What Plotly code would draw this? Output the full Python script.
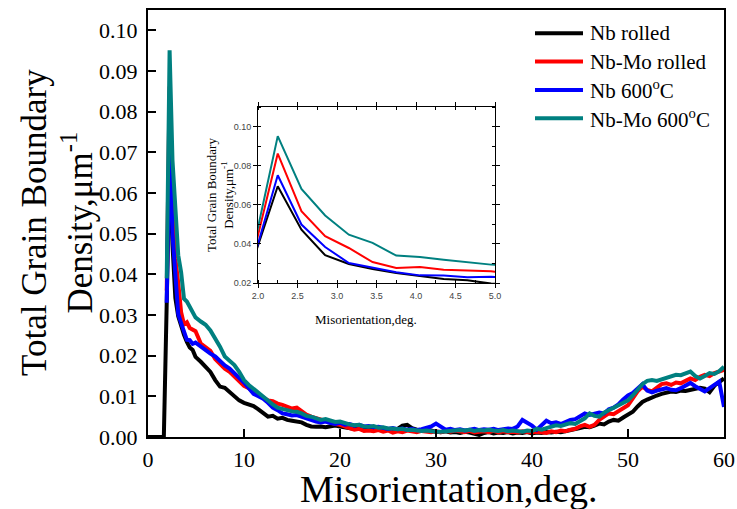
import plotly.graph_objects as go

# ---- data -------------------------------------------------------------
# bin centres (deg): fine bins at the low-angle peak, then 0.5 deg bins
HEAD_X = [1.95, 2.25, 2.55, 2.85, 3.15, 3.45, 3.75, 4.05, 4.35, 4.65, 4.95]
TAIL_X = [round(5.5 + 0.5 * i, 2) for i in range(110)]
MISORIENTATION = HEAD_X + TAIL_X

# Nb rolled also reports the empty bins below the first populated one
LEAD_X = [0.0, 1.65]
LEAD_Y = [0.0, 0.0]

nb_rolled = [
    0.0330, 0.0695, 0.0473, 0.0342, 0.0297, 0.0272, 0.0251, 0.0234, 0.0220, 0.0214, 0.0197,
    0.0185, 0.0172, 0.0160, 0.0140, 0.0124, 0.0121, 0.0110, 0.0100, 0.0090, 0.0084,
    0.0080, 0.0076, 0.0068, 0.0058, 0.0050, 0.0052, 0.0045, 0.0047, 0.0042, 0.0040,
    0.0038, 0.0036, 0.0030, 0.0026, 0.0025, 0.0026, 0.0024, 0.0025, 0.0028, 0.0026,
    0.0024, 0.0022, 0.0020, 0.0022, 0.0019, 0.0018, 0.0020, 0.0017, 0.0016, 0.0018,
    0.0015, 0.0020, 0.0028, 0.0030, 0.0022, 0.0018, 0.0016, 0.0019, 0.0015, 0.0013,
    0.0012, 0.0014, 0.0011, 0.0012, 0.0010, 0.0013, 0.0011, 0.0009, 0.0005, 0.0010,
    0.0012, 0.0009, 0.0011, 0.0010, 0.0012, 0.0009, 0.0011, 0.0010, 0.0012, 0.0009,
    0.0011, 0.0010, 0.0012, 0.0011, 0.0013, 0.0012, 0.0014, 0.0016, 0.0018, 0.0022,
    0.0025, 0.0024, 0.0028, 0.0033, 0.0031, 0.0038, 0.0042, 0.0040, 0.0048, 0.0056,
    0.0062, 0.0075, 0.0086, 0.0092, 0.0098, 0.0102, 0.0106, 0.0108, 0.0112, 0.0111,
    0.0114, 0.0113, 0.0116, 0.0118, 0.0121, 0.0119, 0.0110, 0.0126, 0.0135, 0.0144,
]

nb_mo_rolled = [
    0.0360, 0.0862, 0.0567, 0.0439, 0.0379, 0.0307, 0.0277, 0.0282, 0.0268, 0.0263, 0.0260,
    0.0230, 0.0222, 0.0212, 0.0192, 0.0180, 0.0168, 0.0160, 0.0149, 0.0138, 0.0126,
    0.0120, 0.0112, 0.0106, 0.0096, 0.0090, 0.0088, 0.0082, 0.0079, 0.0074, 0.0070,
    0.0072, 0.0062, 0.0055, 0.0050, 0.0046, 0.0042, 0.0040, 0.0036, 0.0032, 0.0030,
    0.0026, 0.0022, 0.0018, 0.0020, 0.0015, 0.0016, 0.0014, 0.0017, 0.0013, 0.0016,
    0.0011, 0.0014, 0.0012, 0.0016, 0.0014, 0.0012, 0.0015, 0.0013, 0.0012, 0.0014,
    0.0012, 0.0015, 0.0013, 0.0016, 0.0014, 0.0012, 0.0015, 0.0011, 0.0013, 0.0014,
    0.0012, 0.0015, 0.0011, 0.0014, 0.0012, 0.0013, 0.0011, 0.0014, 0.0012, 0.0011,
    0.0013, 0.0012, 0.0010, 0.0014, 0.0012, 0.0016, 0.0014, 0.0018, 0.0020, 0.0026,
    0.0030, 0.0025, 0.0030, 0.0042, 0.0050, 0.0058, 0.0056, 0.0064, 0.0072, 0.0078,
    0.0095, 0.0112, 0.0124, 0.0116, 0.0112, 0.0122, 0.0130, 0.0132, 0.0128, 0.0134,
    0.0132, 0.0138, 0.0144, 0.0140, 0.0148, 0.0153, 0.0150, 0.0157, 0.0162, 0.0165,
]

nb_600 = [
    0.0330, 0.0751, 0.0499, 0.0384, 0.0302, 0.0280, 0.0255, 0.0239, 0.0238, 0.0229, 0.0232,
    0.0222, 0.0214, 0.0205, 0.0198, 0.0186, 0.0176, 0.0168, 0.0157, 0.0146, 0.0134,
    0.0120, 0.0106, 0.0100, 0.0094, 0.0084, 0.0072, 0.0066, 0.0058, 0.0056, 0.0053,
    0.0054, 0.0050, 0.0046, 0.0040, 0.0038, 0.0036, 0.0038, 0.0034, 0.0032, 0.0035,
    0.0030, 0.0032, 0.0028, 0.0030, 0.0026, 0.0027, 0.0024, 0.0025, 0.0022, 0.0020,
    0.0022, 0.0019, 0.0021, 0.0018, 0.0020, 0.0017, 0.0019, 0.0022, 0.0026, 0.0033,
    0.0026, 0.0018, 0.0020, 0.0017, 0.0019, 0.0016, 0.0018, 0.0020, 0.0017, 0.0019,
    0.0018, 0.0020, 0.0017, 0.0019, 0.0021, 0.0020, 0.0026, 0.0042, 0.0036, 0.0028,
    0.0018, 0.0030, 0.0040, 0.0034, 0.0036, 0.0032, 0.0038, 0.0042, 0.0044, 0.0050,
    0.0058, 0.0054, 0.0056, 0.0060, 0.0058, 0.0068, 0.0072, 0.0080, 0.0092, 0.0102,
    0.0108, 0.0120, 0.0130, 0.0114, 0.0110, 0.0114, 0.0118, 0.0120, 0.0116, 0.0115,
    0.0120, 0.0126, 0.0133, 0.0125, 0.0118, 0.0112, 0.0120, 0.0128, 0.0136, 0.0074,
]

nb_mo_600 = [
    0.0390, 0.0951, 0.0681, 0.0545, 0.0447, 0.0405, 0.0340, 0.0333, 0.0319, 0.0306, 0.0294,
    0.0284, 0.0276, 0.0262, 0.0244, 0.0222, 0.0198, 0.0188, 0.0177, 0.0160, 0.0140,
    0.0128, 0.0118, 0.0108, 0.0098, 0.0087, 0.0080, 0.0072, 0.0068, 0.0066, 0.0063,
    0.0062, 0.0058, 0.0052, 0.0050, 0.0046, 0.0042, 0.0044, 0.0040, 0.0037, 0.0038,
    0.0034, 0.0031, 0.0029, 0.0030, 0.0026, 0.0025, 0.0027, 0.0023, 0.0024, 0.0021,
    0.0021, 0.0019, 0.0020, 0.0017, 0.0018, 0.0016, 0.0015, 0.0016, 0.0014, 0.0013,
    0.0013, 0.0014, 0.0016, 0.0015, 0.0017, 0.0016, 0.0018, 0.0015, 0.0017, 0.0016,
    0.0018, 0.0016, 0.0015, 0.0017, 0.0014, 0.0016, 0.0015, 0.0013, 0.0016, 0.0015,
    0.0020, 0.0018, 0.0022, 0.0026, 0.0029, 0.0027, 0.0030, 0.0034, 0.0032, 0.0040,
    0.0046, 0.0058, 0.0052, 0.0050, 0.0060, 0.0066, 0.0072, 0.0076, 0.0083, 0.0090,
    0.0102, 0.0116, 0.0130, 0.0138, 0.0140, 0.0138, 0.0142, 0.0144, 0.0148, 0.0153,
    0.0152, 0.0156, 0.0161, 0.0150, 0.0144, 0.0150, 0.0157, 0.0155, 0.0162, 0.0173,
]

SERIES_NAMES = ["Nb rolled", "Nb-Mo rolled", "Nb 600<sup>o</sup>C", "Nb-Mo 600<sup>o</sup>C"]
SERIES_COLORS = ["#000000", "#ff0000", "#0000ff", "#008080"]
SERIES_X = [LEAD_X + MISORIENTATION, MISORIENTATION, MISORIENTATION, MISORIENTATION]
SERIES_Y = [LEAD_Y + nb_rolled, nb_mo_rolled, nb_600, nb_mo_600]

X_TICKS = [0, 10, 20, 30, 40, 50, 60]
Y_TICKS = [0.00, 0.01, 0.02, 0.03, 0.04, 0.05, 0.06, 0.07, 0.08, 0.09, 0.10]
INSET_X_TICKS = [2.0, 2.5, 3.0, 3.5, 4.0, 4.5, 5.0]
INSET_Y_TICKS = [0.02, 0.04, 0.06, 0.08, 0.10]

# ---- geometry ----------------------------------------------------------
W, H = 737, 509
L, R, T, B = 148, 13, 10, 72
PW, PH = W - L - R, H - T - B


def fx(px):
    return (px - L) / PW


def fy(py):
    return (H - B - py) / PH


SERIF = "Times New Roman, Liberation Serif, serif"
SANS = "Arial, Liberation Sans, sans-serif"

fig = go.Figure()

for name, color, xs, ys in zip(SERIES_NAMES, SERIES_COLORS, SERIES_X, SERIES_Y):
    fig.add_trace(go.Scatter(x=xs, y=ys, mode="lines", name=name,
                             line=dict(color=color, width=4),
                             xaxis="x", yaxis="y", showlegend=False))
for name, color, xs, ys in zip(SERIES_NAMES, SERIES_COLORS, SERIES_X, SERIES_Y):
    fig.add_trace(go.Scatter(x=xs, y=ys, mode="lines", name=name,
                             line=dict(color=color, width=2),
                             xaxis="x2", yaxis="y2", showlegend=False))

main_axis = dict(showline=True, linecolor="black", linewidth=2, mirror=True,
                 ticks="inside", ticklen=8, tickwidth=2, tickcolor="black",
                 showgrid=False, zeroline=False, automargin=False,
                 tickfont=dict(family=SERIF, size=22, color="black"))
inset_axis = dict(showline=True, linecolor="black", linewidth=1, mirror="ticks",
                  ticks="outside", ticklen=4, tickwidth=1, tickcolor="black",
                  showgrid=False, zeroline=False, automargin=False,
                  tickfont=dict(family=SANS, size=9, color="#444444"))

fig.update_layout(
    width=W, height=H, autosize=False,
    margin=dict(l=L, r=R, t=T, b=B, autoexpand=False),
    paper_bgcolor="white", plot_bgcolor="white",
    showlegend=False,
    xaxis=dict(domain=[0, 1], range=[0, 60], tickvals=X_TICKS,
               ticklabelstandoff=2, **main_axis),
    yaxis=dict(domain=[0, 1], range=[0, 0.105], tickvals=Y_TICKS,
               tickformat=".2f", ticklabelstandoff=4, **main_axis),
    xaxis2=dict(domain=[fx(258), fx(495)], anchor="y2", range=[2, 5],
                tickvals=INSET_X_TICKS, tickformat=".1f",
                minor=dict(dtick=0.25, ticks="inside", ticklen=3, tickcolor="black"),
                **inset_axis),
    yaxis2=dict(domain=[fy(283), fy(107)], anchor="x2", range=[0.02, 0.11],
                tickvals=INSET_Y_TICKS, tickformat=".2f",
                minor=dict(dtick=0.01, ticks="inside", ticklen=3, tickcolor="black"),
                **inset_axis),
)

annotations = [
    dict(text="Total Grain Boundary<br>Density,\u03bcm<sup>-1</sup>",
         x=fx(57), y=fy(223), textangle=-90,
         font=dict(family=SERIF, size=35, color="black")),
    dict(text="Misorientation,deg.", x=fx(449), y=fy(489),
         font=dict(family=SERIF, size=38, color="black")),
    dict(text="Total Grain Boundary<br>Density,\u03bcm<sup>-1</sup>",
         x=fx(220), y=fy(195), textangle=-90,
         font=dict(family=SERIF, size=13, color="black")),
    dict(text="Misorientation,deg.", x=fx(366), y=fy(319),
         font=dict(family=SERIF, size=13, color="black")),
]

# legend drawn in the upper-right corner of the main panel
shapes = []
for i, (name, color) in enumerate(zip(SERIES_NAMES, SERIES_COLORS)):
    row = 33.3 + 28.3 * i
    shapes.append(dict(type="line", xref="paper", yref="paper",
                       x0=fx(535), x1=fx(583), y0=fy(row), y1=fy(row),
                       line=dict(color=color, width=4)))
    annotations.append(dict(text=name, x=fx(588), y=fy(row), xanchor="left",
                            font=dict(family=SERIF, size=21, color="black")))

for a in annotations:
    a.setdefault("xref", "paper")
    a.setdefault("yref", "paper")
    a.setdefault("showarrow", False)
    a.setdefault("xanchor", "center")
    a.setdefault("yanchor", "middle")

fig.update_layout(annotations=annotations, shapes=shapes)

fig.write_html("out.html")
